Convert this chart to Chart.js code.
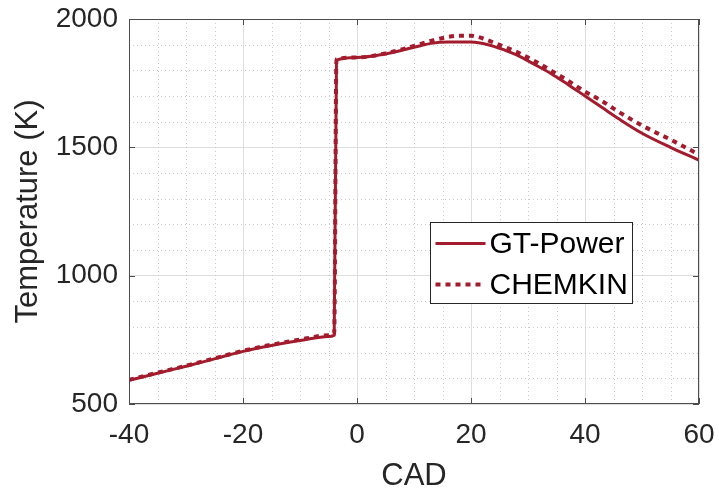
<!DOCTYPE html>
<html>
<head>
<meta charset="utf-8">
<title>Temperature vs CAD</title>
<script src="https://cdn.jsdelivr.net/npm/chart.js@4.4.0/dist/chart.umd.min.js"></script>
<style>
    html, body { margin: 0; padding: 0; background: #ffffff; }
    #wrap { width: 719px; height: 495px; }
</style>
</head>
<body>
<div id="wrap"><canvas id="chart1" width="719" height="495"></canvas></div>
<script>
// Crank angle (deg) and in-cylinder temperature (K)
const cadGT = [-40, -35, -30, -25, -20, -15, -10, -5, -4, -3.6, 0, 5, 10, 13, 16, 20, 23, 26, 28, 31, 34, 37, 40, 43, 46, 50, 55, 60];
const tempGT = [592, 620, 647, 676, 705, 728, 747, 763, 768, 1840, 1850, 1864, 1890, 1905, 1910, 1910, 1900, 1878, 1860, 1825, 1788, 1745, 1700, 1655, 1610, 1555, 1500, 1450];

const cadCK = [-40, -35, -30, -25, -20, -15, -10, -5, -4, -3.6, 0, 5, 10, 13, 16, 18, 20, 22, 24, 26, 28, 31, 34, 37, 40, 43, 46, 50, 55, 60];
const tempCK = [594, 622, 649, 678, 707, 731, 751, 768, 775, 1843, 1850, 1866, 1895, 1915, 1930, 1935, 1935, 1925, 1908, 1890, 1872, 1838, 1800, 1760, 1717, 1680, 1637, 1585, 1530, 1472];

const xTicks = [-40, -20, 0, 20, 40, 60];
const yTicks = [500, 1000, 1500, 2000];

const lineColor = '#a31c2e';
const textColor = '#262626';
const fontFamily = '"Liberation Sans", Arial, Helvetica, sans-serif';

const toPoints = (xs, ys) => xs.map((x, i) => ({ x: x, y: ys[i] }));

// keep the plot box fixed: no extra room for the end tick labels
const noLabelPadding = (scale) => {
    scale.paddingTop = 0;
    scale.paddingBottom = 0;
    scale.paddingLeft = 0;
    scale.paddingRight = 0;
};

// Minor dotted grid, box with inward ticks and the legend
const frameLegend = {
    id: 'frameLegend',
    beforeDatasetsDraw(chart) {
        const { ctx, chartArea: a, scales } = chart;
        ctx.save();
        ctx.strokeStyle = '#c9c9c9';
        ctx.lineWidth = 1;
        ctx.setLineDash([1, 3]);
        for (let v = -35; v < 60; v += 5) {
            if (v % 20 === 0) continue;
            const px = Math.round(scales.x.getPixelForValue(v)) + 0.5;
            ctx.beginPath(); ctx.moveTo(px, a.top); ctx.lineTo(px, a.bottom); ctx.stroke();
        }
        for (let v = 600; v < 2000; v += 100) {
            if (v % 500 === 0) continue;
            const py = Math.round(scales.y.getPixelForValue(v)) + 0.5;
            ctx.beginPath(); ctx.moveTo(a.left, py); ctx.lineTo(a.right, py); ctx.stroke();
        }
        ctx.restore();
    },
    afterDatasetsDraw(chart) {
        const { ctx, chartArea: a, scales } = chart;
        ctx.save();
        ctx.strokeStyle = '#4d4d4d';
        ctx.lineWidth = 1;
        ctx.setLineDash([]);
        ctx.strokeRect(a.left + 0.5, a.top + 0.5, a.right - a.left - 1, a.bottom - a.top - 1);
        const len = 6;
        xTicks.forEach(v => {
            const px = Math.round(scales.x.getPixelForValue(v)) + 0.5;
            ctx.beginPath();
            ctx.moveTo(px, a.top); ctx.lineTo(px, a.top + len);
            ctx.moveTo(px, a.bottom); ctx.lineTo(px, a.bottom - len);
            ctx.stroke();
        });
        yTicks.forEach(v => {
            const py = Math.round(scales.y.getPixelForValue(v)) + 0.5;
            ctx.beginPath();
            ctx.moveTo(a.left, py); ctx.lineTo(a.left + len, py);
            ctx.moveTo(a.right, py); ctx.lineTo(a.right - len, py);
            ctx.stroke();
        });

        // legend box inside the axes
        const w = a.right - a.left, h = a.bottom - a.top;
        const bx = Math.round(a.left + w * 0.528) + 0.5;
        const by = Math.round(a.top + h * 0.528) + 0.5;
        const bw = 202, bh = 81;
        ctx.fillStyle = '#ffffff';
        ctx.fillRect(bx, by, bw, bh);
        ctx.strokeStyle = '#262626';
        ctx.strokeRect(bx, by, bw, bh);
        ctx.font = '30px ' + fontFamily;
        ctx.textBaseline = 'middle';
        ctx.textAlign = 'left';
        chart.data.datasets.forEach((ds, i) => {
            const yy = by + 21 + i * 41;
            ctx.strokeStyle = ds.borderColor;
            ctx.lineWidth = ds.borderWidth;
            ctx.setLineDash(ds.borderDash || []);
            ctx.lineCap = 'butt';
            ctx.beginPath(); ctx.moveTo(bx + 5, yy); ctx.lineTo(bx + 55, yy); ctx.stroke();
            ctx.setLineDash([]);
            ctx.fillStyle = '#000000';
            ctx.fillText(ds.label, bx + 59, yy + 1);
        });
        ctx.restore();
    }
};

window.addEventListener('DOMContentLoaded', () => {
    const ctx = document.getElementById('chart1').getContext('2d');

    new Chart(ctx, {
        type: 'line',
        data: {
            datasets: [{
                label: 'GT-Power',
                data: toPoints(cadGT, tempGT),
                borderColor: lineColor,
                borderWidth: 3,
                pointRadius: 0,
                cubicInterpolationMode: 'monotone',
                fill: false,
                order: 1
            },
            {
                label: 'CHEMKIN',
                data: toPoints(cadCK, tempCK),
                borderColor: lineColor,
                borderWidth: 4,
                borderDash: [5, 5],
                borderCapStyle: 'butt',
                pointRadius: 0,
                cubicInterpolationMode: 'monotone',
                fill: false,
                order: 0
            }]
        },
        options: {
            responsive: false,
            maintainAspectRatio: false,
            animation: false,
            layout: { padding: { top: 19, right: 20, bottom: 0, left: 0 } },
            plugins: {
                legend: { display: false },
                tooltip: { enabled: false }
            },
            scales: {
                x: {
                    type: 'linear',
                    min: -40,
                    max: 60,
                    afterBuildTicks: (scale) => { scale.ticks = xTicks.map(v => ({ value: v })); },
                    afterFit: (scale) => { scale.height = 91; noLabelPadding(scale); },
                    grid: { color: '#dedede', lineWidth: 1, drawTicks: false },
                    border: { display: false },
                    ticks: {
                        padding: 14,
                        maxRotation: 0,
                        color: textColor,
                        font: { family: fontFamily, size: 28 },
                        callback: (v) => String(v)
                    },
                    title: {
                        display: true,
                        text: 'CAD',
                        color: textColor,
                        padding: { top: 0, bottom: 0 },
                        font: { family: fontFamily, size: 31 }
                    }
                },
                y: {
                    type: 'linear',
                    min: 500,
                    max: 2000,
                    afterBuildTicks: (scale) => { scale.ticks = yTicks.map(v => ({ value: v })); },
                    afterFit: (scale) => { scale.width = 129; noLabelPadding(scale); },
                    grid: { color: '#dedede', lineWidth: 1, drawTicks: false },
                    border: { display: false },
                    ticks: {
                        padding: 11,
                        color: textColor,
                        font: { family: fontFamily, size: 28 },
                        callback: (v) => String(v)
                    },
                    title: {
                        display: true,
                        text: 'Temperature (K)',
                        color: textColor,
                        padding: { top: 10, bottom: 0 },
                        font: { family: fontFamily, size: 31 }
                    }
                }
            }
        },
        plugins: [frameLegend]
    });
});
</script>
</body>
</html>
